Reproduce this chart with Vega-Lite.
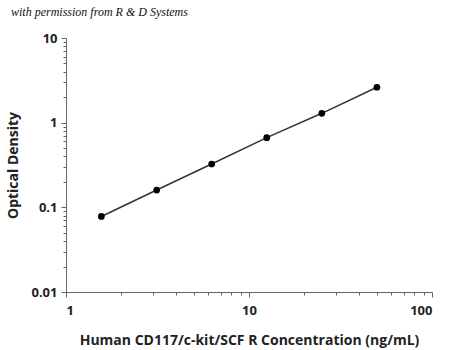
{
  "$schema": "https://vega.github.io/schema/vega-lite/v6.json",
  "width": 366,
  "height": 254,
  "autosize": "none",
  "padding": {"left": 66, "top": 38, "right": 18, "bottom": 58},
  "background": "white",
  "title": {
    "text": "with permission from R & D Systems",
    "anchor": "start",
    "frame": "group",
    "dx": -55,
    "dy": -1,
    "offset": 12,
    "font": "Liberation Serif",
    "fontStyle": "italic",
    "fontWeight": "normal",
    "fontSize": 12,
    "color": "#111"
  },
  "data": {
    "values": [
      {"conc": 1.56, "od": 0.078},
      {"conc": 3.13, "od": 0.16},
      {"conc": 6.25, "od": 0.325},
      {"conc": 12.5, "od": 0.665},
      {"conc": 25, "od": 1.29},
      {"conc": 50, "od": 2.62}
    ]
  },
  "config": {
    "view": {"stroke": null},
    "axis": {
      "grid": false,
      "domainColor": "#666",
      "tickColor": "#666",
      "labelFont": "Open Sans",
      "labelFontWeight": "bold",
      "labelFontSize": 13,
      "labelColor": "#222",
      "titleFont": "Open Sans",
      "titleFontWeight": "bold",
      "titleFontSize": 14,
      "titleColor": "#222"
    }
  },
  "encoding": {
    "x": {
      "field": "conc",
      "type": "quantitative",
      "scale": {"type": "log", "domain": [1, 100], "nice": false},
      "axis": {
        "title": "Human CD117/c-kit/SCF R Concentration (ng/mL)",
        "values": [1, 2, 3, 4, 5, 6, 7, 8, 9, 10, 20, 30, 40, 50, 60, 70, 80, 90, 100],
        "labelExpr": "indexof([1,10,100], datum.value) >= 0 ? datum.value : ''",
        "tickSize": {"condition": {"test": "indexof([1,10,100], datum.value) >= 0", "value": 5}, "value": 3},
        "labelPadding": 7,
        "titlePadding": 16
      }
    },
    "y": {
      "field": "od",
      "type": "quantitative",
      "scale": {"type": "log", "domain": [0.01, 10], "nice": false},
      "axis": {
        "title": "Optical Density",
        "values": [0.01, 0.02, 0.03, 0.04, 0.05, 0.06, 0.07, 0.08, 0.09, 0.1, 0.2, 0.3, 0.4, 0.5, 0.6, 0.7, 0.8, 0.9, 1, 2, 3, 4, 5, 6, 7, 8, 9, 10],
        "labelExpr": "indexof([0.01,0.1,1,10], datum.value) >= 0 ? datum.value : ''",
        "tickSize": {"condition": {"test": "indexof([0.01,0.1,1,10], datum.value) >= 0", "value": 5}, "value": 3},
        "labelPadding": 4,
        "titlePadding": 10
      }
    }
  },
  "layer": [
    {"mark": {"type": "line", "color": "#333", "strokeWidth": 1.5}},
    {"mark": {"type": "point", "filled": true, "color": "#000", "size": 45, "opacity": 1}}
  ]
}
